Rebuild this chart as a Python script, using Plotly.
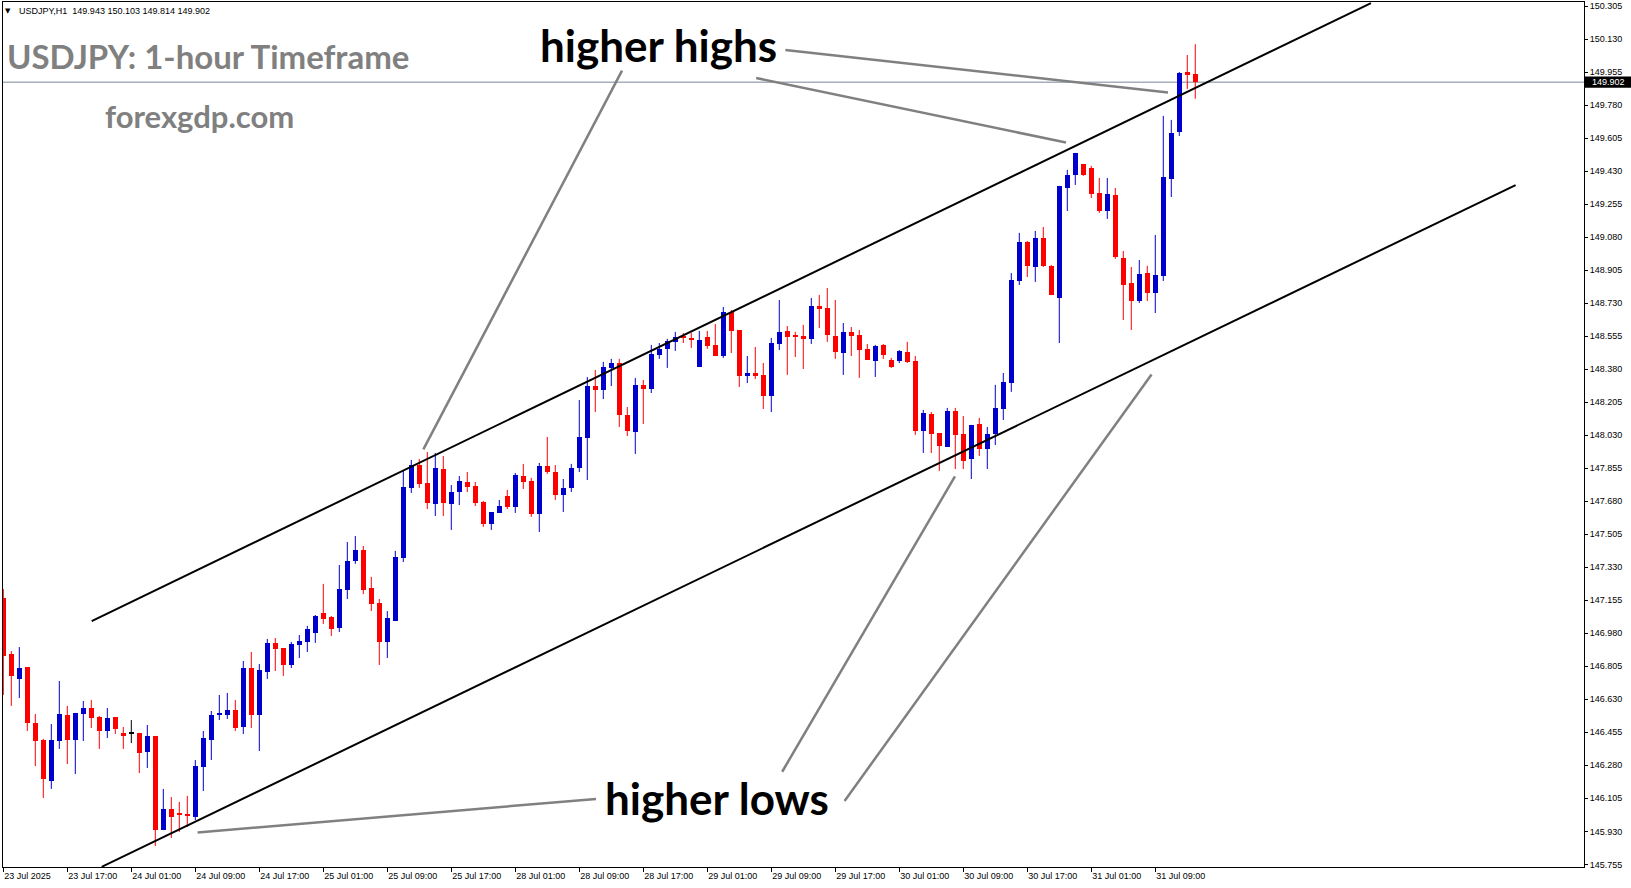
import plotly.graph_objects as go

# ---------------- data (USDJPY H1, bar index 0 = 23 Jul 2025 09:00) ----------------
opens = [147.167, 146.870, 146.738, 146.801, 146.504, 146.414, 146.197, 146.409, 146.547, 146.414,
         146.552, 146.584, 146.536, 146.462, 146.536, 146.452, 146.450, 146.452, 146.351, 146.436,
         145.937, 146.049, 146.027, 146.022, 146.006, 146.271, 146.414, 146.547, 146.547, 146.573,
         146.483, 146.796, 146.547, 146.775, 146.929, 146.902, 146.812, 146.918, 146.934, 146.982,
         147.088, 147.067, 147.008, 147.210, 147.363, 147.422, 147.220, 147.141, 146.934, 147.045,
         147.379, 147.751, 147.872, 147.777, 147.666, 147.851, 147.666, 147.729, 147.782, 147.761,
         147.676, 147.560, 147.618, 147.708, 147.650, 147.814, 147.788, 147.613, 147.867, 147.835,
         147.713, 147.751, 147.857, 148.016, 148.291, 148.270, 148.387, 148.413, 148.138, 148.047,
         148.297, 148.275, 148.456, 148.488, 148.525, 148.556, 148.544, 148.392, 148.551, 148.509,
         148.450, 148.684, 148.588, 148.344, 148.360, 148.350, 148.238, 148.514, 148.583, 148.558,
         148.556, 148.541, 148.716, 148.705, 148.556, 148.466, 148.578, 148.562, 148.488, 148.424,
         148.509, 148.429, 148.424, 148.472, 148.424, 148.053, 148.143, 148.042, 147.968, 148.159,
         148.037, 147.904, 148.090, 147.957, 148.037, 148.169, 148.307, 148.848, 149.055, 148.922,
         149.076, 148.928, 148.758, 149.341, 149.410, 149.468, 149.447, 149.315, 149.219, 149.304,
         148.970, 148.837, 148.742, 148.890, 148.784, 148.875, 149.389, 149.638, 149.956, 149.943]
highs = [147.215, 146.886, 146.907, 146.801, 146.552, 146.420, 146.499, 146.727, 146.595, 146.558,
         146.621, 146.626, 146.542, 146.584, 146.536, 146.483, 146.520, 146.452, 146.494, 146.436,
         146.155, 146.112, 146.086, 146.118, 146.308, 146.462, 146.568, 146.653, 146.664, 146.626,
         146.833, 146.881, 146.817, 146.950, 146.955, 146.902, 146.934, 146.971, 147.019, 147.077,
         147.242, 147.072, 147.342, 147.464, 147.496, 147.443, 147.279, 147.162, 147.098, 147.417,
         147.841, 147.899, 147.904, 147.941, 147.936, 147.920, 147.766, 147.814, 147.835, 147.782,
         147.682, 147.623, 147.687, 147.740, 147.830, 147.878, 147.804, 147.883, 148.021, 147.872,
         147.798, 147.878, 148.217, 148.339, 148.376, 148.419, 148.435, 148.435, 148.180, 148.334,
         148.323, 148.509, 148.519, 148.541, 148.578, 148.572, 148.572, 148.583, 148.583, 148.620,
         148.710, 148.694, 148.588, 148.450, 148.498, 148.413, 148.546, 148.747, 148.609, 148.578,
         148.615, 148.758, 148.774, 148.811, 148.747, 148.625, 148.604, 148.588, 148.514, 148.509,
         148.514, 148.440, 148.482, 148.525, 148.450, 148.164, 148.153, 148.042, 148.175, 148.175,
         148.132, 148.085, 148.122, 148.074, 148.297, 148.360, 148.890, 149.103, 149.060, 149.113,
         149.134, 148.933, 149.352, 149.437, 149.527, 149.468, 149.458, 149.394, 149.394, 149.341,
         149.007, 148.922, 148.959, 148.928, 149.092, 149.723, 149.702, 149.956, 150.046, 150.103]
lows = [146.653, 146.595, 146.637, 146.462, 146.276, 146.107, 146.155, 146.367, 146.287, 146.234,
        146.409, 146.478, 146.367, 146.425, 146.446, 146.367, 146.398, 146.239, 146.266, 145.852,
        145.937, 145.895, 145.927, 145.953, 145.990, 146.144, 146.308, 146.520, 146.526, 146.462,
        146.446, 146.478, 146.356, 146.738, 146.780, 146.754, 146.796, 146.849, 146.881, 146.929,
        147.029, 146.966, 146.987, 147.162, 147.348, 147.188, 147.098, 146.812, 146.849, 147.045,
        147.358, 147.724, 147.751, 147.639, 147.602, 147.602, 147.528, 147.660, 147.729, 147.655,
        147.544, 147.528, 147.618, 147.639, 147.618, 147.745, 147.597, 147.517, 147.825, 147.687,
        147.623, 147.729, 147.835, 147.793, 148.153, 148.222, 148.291, 148.074, 148.026, 147.931,
        148.090, 148.254, 148.435, 148.387, 148.477, 148.519, 148.493, 148.392, 148.488, 148.450,
        148.440, 148.466, 148.286, 148.307, 148.328, 148.169, 148.153, 148.482, 148.350, 148.445,
        148.381, 148.514, 148.599, 148.525, 148.435, 148.350, 148.450, 148.334, 148.429, 148.339,
        148.435, 148.387, 148.413, 148.413, 148.032, 147.936, 147.936, 147.841, 147.968, 147.851,
        147.851, 147.798, 147.920, 147.851, 147.978, 148.111, 148.260, 148.827, 148.869, 148.843,
        148.922, 148.774, 148.519, 149.219, 149.357, 149.405, 149.288, 149.209, 149.177, 148.965,
        148.641, 148.588, 148.731, 148.742, 148.678, 148.848, 149.293, 149.617, 149.866, 149.814]
closes = [146.860, 146.754, 146.796, 146.506, 146.409, 146.208, 146.414, 146.552, 146.414, 146.558,
          146.584, 146.531, 146.462, 146.531, 146.473, 146.436, 146.450, 146.345, 146.436, 145.937,
          146.049, 146.006, 146.017, 146.011, 146.276, 146.425, 146.547, 146.558, 146.573, 146.478,
          146.796, 146.547, 146.786, 146.929, 146.897, 146.812, 146.923, 146.939, 147.003, 147.072,
          147.056, 147.003, 147.215, 147.363, 147.422, 147.210, 147.135, 146.934, 147.061, 147.385,
          147.756, 147.872, 147.772, 147.671, 147.857, 147.671, 147.729, 147.788, 147.756, 147.671,
          147.560, 147.623, 147.655, 147.650, 147.819, 147.782, 147.613, 147.867, 147.835, 147.713,
          147.751, 147.857, 148.021, 148.291, 148.270, 148.392, 148.413, 148.138, 148.053, 148.297,
          148.275, 148.461, 148.488, 148.530, 148.551, 148.546, 148.537, 148.535, 148.503, 148.450,
          148.684, 148.583, 148.344, 148.360, 148.344, 148.238, 148.519, 148.578, 148.551, 148.553,
          148.541, 148.716, 148.700, 148.562, 148.472, 148.578, 148.556, 148.482, 148.429, 148.503,
          148.456, 148.392, 148.477, 148.419, 148.053, 148.148, 148.037, 147.973, 148.159, 148.032,
          147.894, 148.085, 147.957, 148.037, 148.175, 148.313, 148.853, 149.055, 148.928, 149.076,
          148.928, 148.774, 149.352, 149.410, 149.527, 149.410, 149.309, 149.219, 149.309, 148.975,
          148.827, 148.742, 148.885, 148.784, 148.880, 149.400, 149.633, 149.951, 149.940, 149.902]
bar_index = list(range(len(opens)))

time_tick_index = [0, 8, 16, 24, 32, 40, 48, 56, 64, 72, 80, 88, 96, 104, 112, 120, 128, 136, 144]
time_tick_labels = ["23 Jul 2025", "23 Jul 17:00", "24 Jul 01:00", "24 Jul 09:00", "24 Jul 17:00",
                    "25 Jul 01:00", "25 Jul 09:00", "25 Jul 17:00", "28 Jul 01:00", "28 Jul 09:00",
                    "28 Jul 17:00", "29 Jul 01:00", "29 Jul 09:00", "29 Jul 17:00", "30 Jul 01:00",
                    "30 Jul 09:00", "30 Jul 17:00", "31 Jul 01:00", "31 Jul 09:00"]
price_ticks = [145.755, 145.930, 146.105, 146.280, 146.455, 146.630, 146.805, 146.980, 147.155,
               147.330, 147.505, 147.680, 147.855, 148.030, 148.205, 148.380, 148.555, 148.730,
               148.905, 149.080, 149.255, 149.430, 149.605, 149.780, 149.955, 150.130, 150.305]
price_tick_labels = ["%.3f" % v for v in price_ticks]

last_price = 149.902
header_text = "USDJPY,H1\u00a0\u00a0149.943 150.103 149.814 149.902"

# channel trendlines: (bar index, price) endpoints
upper_channel = [(11.05, 147.045), (170.96, 150.321)]
lower_channel = [(12.3, 145.742), (189.04, 149.356)]
# pointer lines from labels
pointer_lines = [
    [(97.76, 150.073), (145.59, 149.847)],
    [(94.11, 149.924), (132.84, 149.582)],
    [(77.34, 149.963), (52.51, 147.955)],
    [(74.09, 146.102), (24.29, 145.924)],
    [(97.36, 146.246), (118.96, 147.812)],
    [(105.16, 146.091), (143.53, 148.352)],
]

# ---------------- figure ----------------
W, H = 1631, 888
L, R, T, B = 3, 47, 2, 21
X_RANGE = [-0.0375, 197.59]
Y_RANGE = [145.741, 150.327]

BLUE = "#0000CC"
RED = "#FF0000"
MIN_BODY = 0.0055

def px(x):
    return (x - L) / (W - L - R)

def py(y):
    return (H - B - y) / (H - T - B)

colors, bases, heights = [], [], []
for o, c in zip(opens, closes):
    if c > o:
        colors.append(BLUE)
    elif c < o:
        colors.append(RED)
    else:
        colors.append("#000000")
    lo = min(o, c)
    hgt = abs(c - o)
    if hgt < MIN_BODY:
        lo = (o + c) / 2 - MIN_BODY / 2
        hgt = MIN_BODY
    bases.append(lo)
    heights.append(hgt)

fig = go.Figure()

# wicks
for col in (BLUE, RED, "#000000"):
    wx, wy = [], []
    for i, h, l, c in zip(bar_index, highs, lows, colors):
        if c == col:
            wx += [i, i, None]
            wy += [l, h, None]
    fig.add_trace(go.Scatter(x=wx, y=wy, mode="lines", line=dict(color=col, width=1),
                             hoverinfo="skip", showlegend=False))

fig.add_trace(go.Bar(x=bar_index, y=heights, base=bases, width=0.625,
                     marker=dict(color=colors, line=dict(width=0)),
                     hoverinfo="skip", showlegend=False))

shapes = []
# last price line
shapes.append(dict(type="line", xref="paper", yref="y", x0=0, x1=1, y0=last_price, y1=last_price,
                   line=dict(color="#778899", width=1), layer="below"))
for seg in (upper_channel, lower_channel):
    shapes.append(dict(type="line", xref="x", yref="y", x0=seg[0][0], y0=seg[0][1],
                       x1=seg[1][0], y1=seg[1][1], line=dict(color="#000000", width=2)))
for seg in pointer_lines:
    shapes.append(dict(type="line", xref="x", yref="y", x0=seg[0][0], y0=seg[0][1],
                       x1=seg[1][0], y1=seg[1][1], line=dict(color="#808080", width=2.5)))
# price box on the axis
shapes.append(dict(type="rect", xref="paper", yref="y", x0=px(1585), x1=px(1631),
                   y0=last_price - 0.03, y1=last_price + 0.03,
                   fillcolor="#000000", line=dict(width=0)))

annotations = [
    dict(text="\u25BC", x=px(7.5), y=py(11), xanchor="center", yanchor="middle",
         font=dict(family="DejaVu Sans", size=7, color="#000000")),
    dict(text=header_text, x=px(17), y=py(11), xanchor="left", yanchor="middle",
         font=dict(family="Liberation Sans", size=9, color="#000000")),
    dict(text="<b>USDJPY: 1-hour Timeframe</b>", x=px(5), y=py(56), xanchor="left", yanchor="middle",
         font=dict(family="Lato", size=33, color="#808080")),
    dict(text="<b>forexgdp.com</b>", x=px(103), y=py(116), xanchor="left", yanchor="middle",
         font=dict(family="Lato", size=31, color="#808080")),
    dict(text="<b>higher highs</b>", x=px(538), y=py(45), xanchor="left", yanchor="middle",
         font=dict(family="Lato", size=44, color="#000000")),
    dict(text="<b>higher lows</b>", x=px(603), y=py(798), xanchor="left", yanchor="middle",
         font=dict(family="Lato", size=44, color="#000000")),
    dict(text="%.3f" % last_price, x=px(1590), y=last_price, yref="y", xanchor="left", yanchor="middle",
         font=dict(family="Liberation Sans", size=9, color="#FFFFFF")),
]
for a in annotations:
    a.setdefault("xref", "paper")
    a.setdefault("yref", "paper")
    a["showarrow"] = False

fig.update_layout(
    width=W, height=H,
    margin=dict(l=L, r=R, t=T, b=B, pad=0, autoexpand=False),
    paper_bgcolor="#FFFFFF", plot_bgcolor="#FFFFFF",
    showlegend=False, bargap=0,
    shapes=shapes, annotations=annotations,
    xaxis=dict(range=X_RANGE, showgrid=False, zeroline=False, automargin=False,
               showline=True, mirror=True, linecolor="#000000", linewidth=1,
               tickmode="array", tickvals=time_tick_index, ticktext=time_tick_labels,
               ticks="outside", ticklen=4, tickcolor="#000000", tickwidth=1,
               ticklabelposition="outside right",
               tickfont=dict(family="Liberation Sans", size=9, color="#000000")),
    yaxis=dict(range=Y_RANGE, side="right", showgrid=False, zeroline=False, automargin=False,
               showline=True, mirror=True, linecolor="#000000", linewidth=1,
               tickmode="array", tickvals=price_ticks, ticktext=price_tick_labels,
               ticks="outside", ticklen=3, tickcolor="#000000", tickwidth=1,
               tickfont=dict(family="Liberation Sans", size=9, color="#000000")),
)

fig.write_html("out.html", config={"displayModeBar": False},
               post_script="document.body.style.margin='0';document.body.style.overflow='hidden';")
